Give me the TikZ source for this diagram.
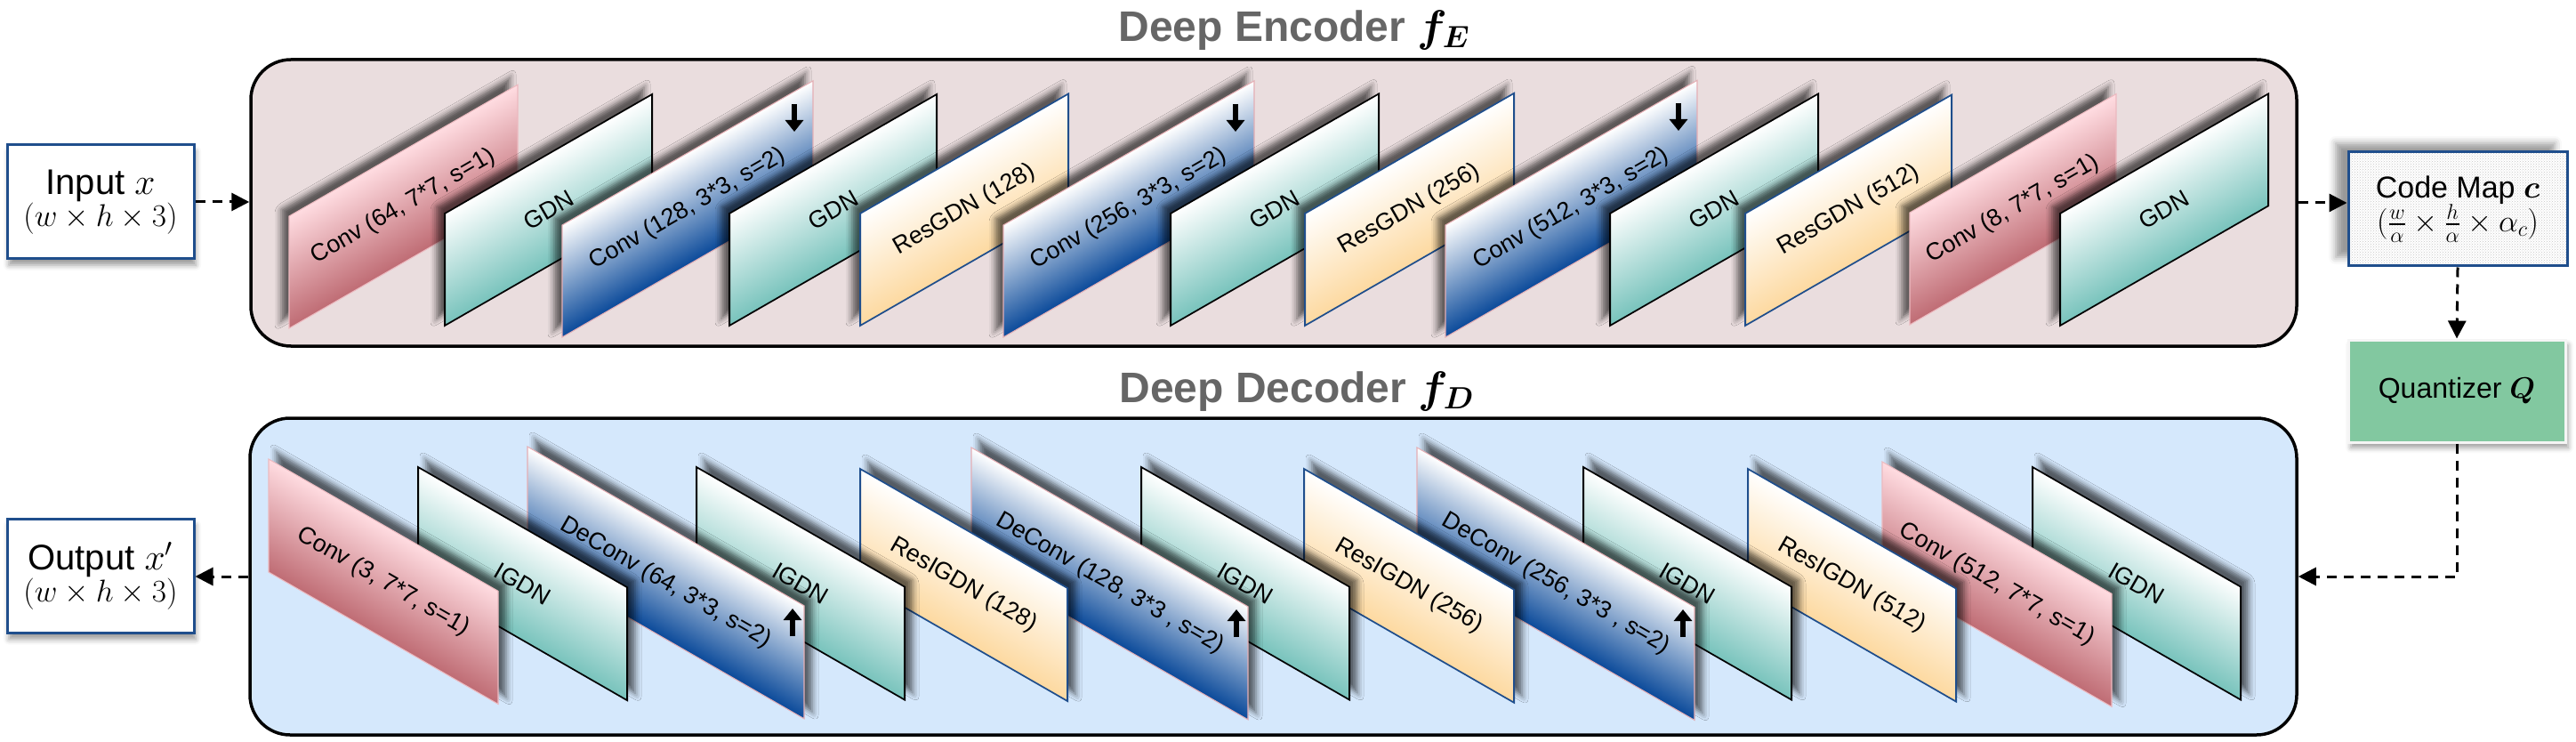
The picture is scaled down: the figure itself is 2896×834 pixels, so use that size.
\documentclass[tikz,border=0pt]{standalone}
\usepackage{amsmath, bm}
\usepackage{fontspec}
\setmainfont{Liberation Sans}
\usepackage{tikz}
\usetikzlibrary{arrows.meta, positioning, calc, shadows.blur, patterns}

\definecolor{encbg}{HTML}{EADDDE}
\definecolor{decbg}{HTML}{D5E8FC}
\definecolor{convpink}{HTML}{BF6C74}
\definecolor{convpinklt}{HTML}{FFDCE1}
\definecolor{gdnteal}{HTML}{78C3BC}
\definecolor{convblue}{HTML}{0B4A9A}
\definecolor{resorange}{HTML}{FDD9A0}
\definecolor{quantgreen}{HTML}{82C8A0}
\definecolor{boxnavy}{HTML}{1F4E8C}
\definecolor{titlegray}{HTML}{666666}

% math at 24pt, blown up to the size wanted
\newcommand{\scaledmath}[2]{\scalebox{#1}{\fontsize{24}{28}\selectfont$#2$}}

\tikzset{
  convR/.style={top color=convpinklt, bottom color=convpink, draw=convpinklt!70!convpink, line width=1.2pt},
  gdn/.style={top color=white, bottom color=gdnteal, draw=black, line width=2pt},
  convB/.style={top color=white, bottom color=convblue, draw=convpinklt!60!convpink, line width=1.2pt},
  res/.style={top color=white, bottom color=resorange, draw=boxnavy, line width=2pt},
  encshade/.style={blur shadow={shadow xshift=-9pt, shadow yshift=13pt, shadow blur radius=7pt, shadow opacity=60}},
  decshade/.style={blur shadow={shadow xshift=9pt, shadow yshift=13pt, shadow blur radius=7pt, shadow opacity=60}},
  lbl/.style={font=\fontsize{27}{30}\selectfont, inner sep=0pt},
  stage/.style={draw=black, line width=3.5pt, rounded corners=45pt, inner sep=0pt},
  iobox/.style={draw=boxnavy, fill=white, line width=3pt, minimum width=210pt,
    minimum height=128pt, align=center, inner sep=0pt,
    blur shadow={shadow xshift=2pt, shadow yshift=-7pt, shadow blur radius=6pt}},
  codebox/.style={draw=boxnavy, line width=3pt, minimum width=246pt, minimum height=128pt,
    align=center, inner sep=0pt,
    blur shadow={shadow xshift=-14pt, shadow yshift=10pt, shadow blur radius=8pt},
    preaction={fill=white}, pattern=crosshatch dots, pattern color=gray!45},
  quantbox/.style={draw=white!92!gray, fill=quantgreen, line width=3pt, minimum width=244pt,
    minimum height=115pt, inner sep=0pt,
    blur shadow={shadow xshift=3pt, shadow yshift=-6pt, shadow blur radius=6pt}},
  flow/.style={dash pattern=on 11pt off 8pt, line width=3pt, -{Triangle[length=20pt,width=20pt]}},
  stridearrow/.style={line width=6pt, -{Triangle[length=13pt,width=20pt]}},
  title/.style={font=\fontsize{48}{52}\selectfont\bfseries, text=titlegray}
}

\begin{document}
\begin{tikzpicture}[x=1pt, y=-1pt]
  \useasboundingbox (0,0) rectangle (2896,834);

  % the two stages
  \node[stage, fill=encbg, minimum width=2300pt, minimum height=322pt] (enc) at (1432,228) {};
  \node[stage, fill=decbg, minimum width=2301pt, minimum height=356pt] (dec) at (1431.5,648) {};
  \node[title] (etitle) at (1455,34) {Deep Encoder \textcolor{black}{\scaledmath{2}{\boldsymbol{f_E}}}};
  \node[title] (dtitle) at (1458,440) {Deep Decoder \textcolor{black}{\scaledmath{2}{\boldsymbol{f_D}}}};

  % encoder layers, left to right
  \foreach \px/\py/\pw/\ps/\pl [count=\i] in {
      325/369/257/convR/{Conv (64, 7*7, s=1)},
      500/366/233/gdn/GDN,
      632/379/282/convB/{Conv (128, 3*3, s=2)},
      820/366/233/gdn/GDN,
      967/366/234/res/{ResGDN (128)},
      1128/379/282/convB/{Conv (256, 3*3, s=2)},
      1316/366/234/gdn/GDN,
      1467/366/235/res/{ResGDN (256)},
      1625/379/283/convB/{Conv (512, 3*3, s=2)},
      1810/366/234/gdn/GDN,
      1962/366/232/res/{ResGDN (512)},
      2147/365/232/convR/{Conv (8, 7*7, s=1)},
      2316/366/234/gdn/GDN} {
    \begin{scope}[transform canvas={shift={(\px,\py)}, yslant=0.575}]
      \shade[\ps, encshade] (0,0) rectangle (\pw,-126);
    \end{scope}
    \node[lbl, rotate=29.9] (e\i) at ({\px+\pw/2},{\py-63-0.2875*\pw}) {\pl};
  }
  \foreach \tx/\ty in {914/91, 1410/91, 1908/90}
    \draw[stridearrow] (\tx-21,\ty+26) -- (\tx-21,\ty+57);

  % decoder layers, right to left
  \foreach \n/\tx/\ty/\pw/\ps/\pl in {
      13/2285/525/234/gdn/IGDN,
      12/2116/519/258/convR/{Conv (512, 7*7, s=1)},
      11/1965/527/234/res/{ResIGDN (512)},
      10/1780/525/234/gdn/IGDN,
      9/1593/503/312/convB/{DeConv (256, 3*3 , s=2)},
      8/1466/527/236/res/{ResIGDN (256)},
      7/1283/525/234/gdn/IGDN,
      6/1092/503/311/convB/{DeConv (128, 3*3 , s=2)},
      5/967/527/233/res/{ResIGDN (128)},
      4/783/525/234/gdn/IGDN,
      3/593/502/311/convB/{DeConv (64, 3*3, s=2)},
      2/470/525/235/gdn/IGDN,
      1/302/516/258/convR/{Conv (3, 7*7, s=1)}} {
    \begin{scope}[transform canvas={shift={(\tx,\ty)}, yslant=-0.575}]
      \shade[\ps, decshade] (0,0) rectangle (\pw,127);
    \end{scope}
    \node[lbl, rotate=-29.9] (d\n) at ({\tx+\pw/2},{\ty+63.5+0.2875*\pw}) {\pl};
  }
  \foreach \tx/\ty in {904/681, 1403/682, 1905/682}
    \draw[stridearrow] (\tx-13,\ty+34) -- (\tx-13,\ty+3);

  % input, code map, quantizer, output
  \node[iobox] (input) at (113,227)
    {{\fontsize{40}{58}\selectfont Input \scaledmath{1.67}{x}}\\\scaledmath{1.42}{(w\times h\times 3)}};
  \node[iobox] (output) at (113,647.5)
    {{\fontsize{40}{58}\selectfont Output \scaledmath{1.67}{x'}}\\\scaledmath{1.42}{(w\times h\times 3)}};
  \node[codebox] (code) at (2763,235)
    {{\fontsize{34}{50}\selectfont Code Map \scaledmath{1.42}{\boldsymbol{c}}}\\\scaledmath{1.4}{(\frac{w}{\alpha}\times\frac{h}{\alpha}\times\alpha_c)}};
  \node[quantbox, font=\fontsize{32}{36}\selectfont] (quant) at (2762,439.5)
    {Quantizer \scaledmath{1.33}{\boldsymbol{Q}}};

  \draw[flow] (input.east) -- (input.east -| enc.west);
  \draw[flow] (enc.east) -- (enc.east -| code.west);
  \draw[flow] (code.south) -- (quant.north);
  \draw[flow] (quant.south) |- (dec.east);
  \draw[flow] (dec.west) -- (dec.west -| output.east);
\end{tikzpicture}
\end{document}
